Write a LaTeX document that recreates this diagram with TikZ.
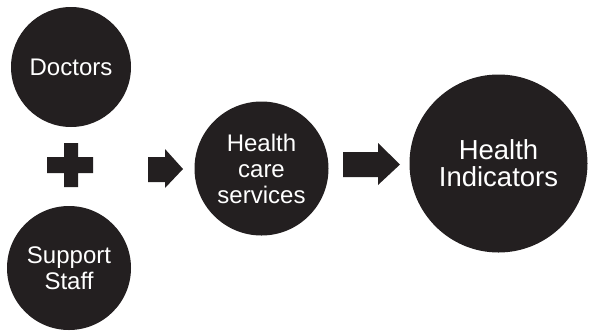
\documentclass[tikz,border=0pt]{standalone}
\usepackage{fontspec}
\setmainfont{Liberation Sans}
\definecolor{blob}{HTML}{231F20}
\begin{document}
\begin{tikzpicture}[x=1pt,y=-1pt,
  blobnode/.style={circle,fill=blob,text=white,inner sep=0pt,align=center,font=\fontsize{24}{26}\selectfont},
  shapefill/.style={fill=blob,draw=none}]
\useasboundingbox (0,0) rectangle (589,333);
\node[blobnode,minimum size=120pt] (doctors) at (71,67) {Doctors};
\node[blobnode,minimum size=124pt] (support) at (69,268) {Support\\Staff};
\node[blobnode,minimum size=134pt] (services) at (261.5,168.5) {Health\\care\\services};
\node[blobnode,minimum size=178pt,font=\fontsize{27.5}{27}\selectfont] (indicators) at (498.5,163.5) {Health\\Indicators};
% plus sign
\fill[shapefill] (47,157) -- (64,157) -- (64,143) -- (78,143) -- (78,157) -- (93,157)
  -- (93,173) -- (78,173) -- (78,187) -- (64,187) -- (64,173) -- (47,173) -- cycle;
% small block arrow
\fill[shapefill] (148,157) -- (165,157) -- (165,149) -- (183,169) -- (165,188) -- (165,182) -- (148,182) -- cycle;
% big block arrow
\fill[shapefill] (343,152) -- (378,152) -- (378,143) -- (400,164.5) -- (378,185) -- (378,177) -- (343,177) -- cycle;
\end{tikzpicture}
\end{document}
